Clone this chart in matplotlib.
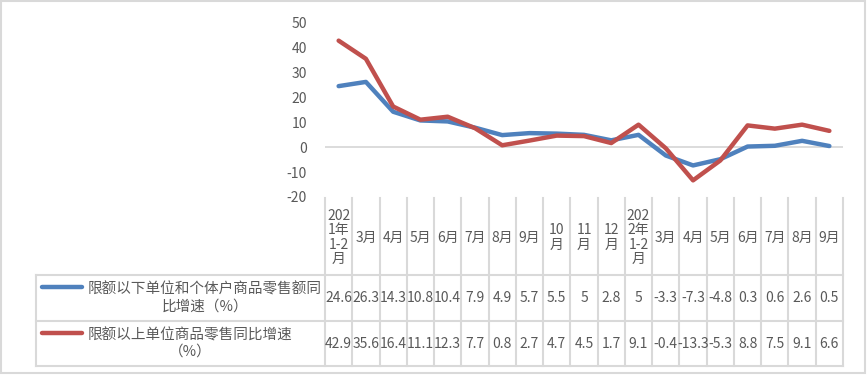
import matplotlib.pyplot as plt
from matplotlib.patches import Rectangle

plt.rcParams['font.family'] = ['Noto Sans CJK SC', 'DejaVu Sans']
plt.rcParams['axes.unicode_minus'] = False

months = ["202\n1年\n1-2\n月", "3月", "4月", "5月", "6月", "7月", "8月", "9月",
          "10\n月", "11\n月", "12\n月", "202\n2年\n1-2\n月",
          "3月", "4月", "5月", "6月", "7月", "8月", "9月"]
below_limit = [24.6, 26.3, 14.3, 10.8, 10.4, 7.9, 4.9, 5.7, 5.5, 5, 2.8, 5,
               -3.3, -7.3, -4.8, 0.3, 0.6, 2.6, 0.5]
above_limit = [42.9, 35.6, 16.4, 11.1, 12.3, 7.7, 0.8, 2.7, 4.7, 4.5, 1.7, 9.1,
               -0.4, -13.3, -5.3, 8.8, 7.5, 9.1, 6.6]
names = ["限额以下单位和个体户商品零售额同\n比增速（%）",
         "限额以上单位商品零售同比增速\n（%）"]
colors = ["#4F81BD", "#C0504D"]
series = [below_limit, above_limit]

W, H = 867, 377
grid_c = "#D9D9D9"
text_c = "#595959"

fig = plt.figure(figsize=(W / 100, H / 100), dpi=100)

# overlay in pixel coords for border and table
ov = fig.add_axes([0, 0, 1, 1])
ov.set_xlim(0, W)
ov.set_ylim(H, 0)
ov.axis("off")

left, right, top, bottom = 325, 843, 23, 197
ax = fig.add_axes([left / W, 1 - bottom / H, (right - left) / W, (bottom - top) / H])
ax.patch.set_alpha(0)
x = list(range(len(months)))
for vals, c in zip(series, colors):
    ax.plot(x, vals, color=c, lw=3.2, solid_capstyle="round", solid_joinstyle="round", zorder=3)
ax.set_xlim(-0.5, len(months) - 0.5)
ax.set_ylim(-20, 50)
ax.set_yticks(range(-20, 51, 10))
ax.axhline(0, color=grid_c, lw=1.3, zorder=1)
for s in ax.spines.values():
    s.set_visible(False)
ax.set_xticks([])
ax.tick_params(axis="y", length=0, pad=13, labelsize=10, labelcolor=text_c)

# column edges in pixel coords from the axes' data scale
to_px = lambda xv: ov.transData.inverted().transform(ax.transData.transform((xv, 0)))[0]
edges = [to_px(i - 0.5) for i in range(len(months) + 1)]
centers = [to_px(i) for i in x]

ov.add_patch(Rectangle((1, 1), 864, 372, fill=False, ec=grid_c, lw=1.5))

hdr_top, row1, row2, tbl_bot, tbl_left = 198, 275, 321, 366, 36
lw_t = 1.5
for e in edges:
    ov.plot([e, e], [hdr_top, tbl_bot], color=grid_c, lw=lw_t)
ov.plot([tbl_left, tbl_left], [row1, tbl_bot], color=grid_c, lw=lw_t)
for yy in (row1, row2, tbl_bot):
    ov.plot([tbl_left, edges[-1]], [yy, yy], color=grid_c, lw=lw_t)

for cx, m in zip(centers, months):
    ov.text(cx, (hdr_top + row1) / 2 + 1, m, ha="center", va="center", fontsize=10,
            color=text_c, linespacing=1.05)

for r, (vals, c, name) in enumerate(zip(series, colors, names)):
    y0 = [row1, row2][r]
    y1 = [row2, tbl_bot][r]
    ym = (y0 + y1) / 2
    ov.plot([42, 82], [y0 + 12, y0 + 12], color=c, lw=3.2, solid_capstyle="round")
    ov.text(88, ym, name, ha="left", va="center", multialignment="center",
            fontsize=10.5, color=text_c, linespacing=1.2)
    for cx, v in zip(centers, vals):
        ov.text(cx, ym, f"{v:g}", ha="center", va="center", fontsize=10, color=text_c)

fig.savefig("out.png", dpi=100)
